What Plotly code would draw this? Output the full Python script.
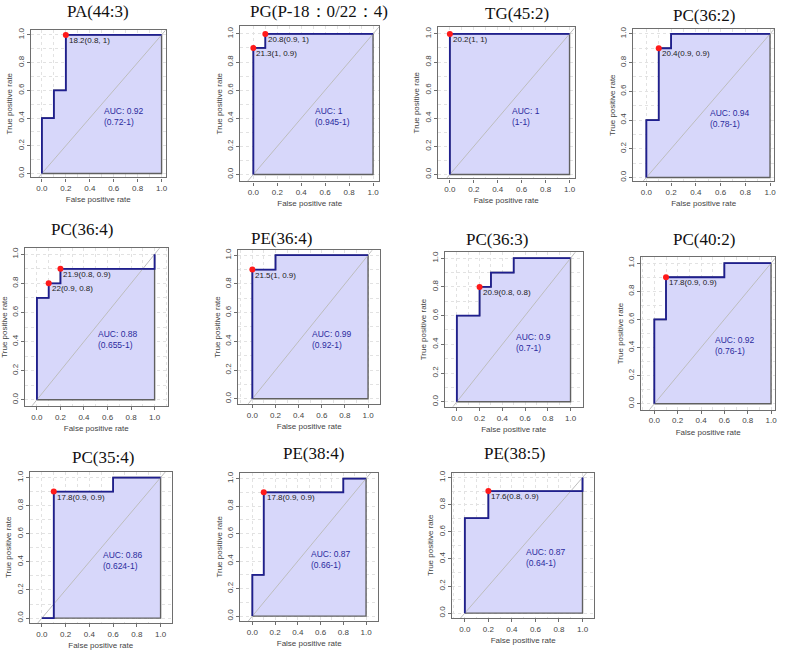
import plotly.graph_objects as go

W, H = 787, 654

# ---------------- data ----------------
titles = ["PA(44:3)", "PG(P-18：0/22：4)", "TG(45:2)", "PC(36:2)",
          "PC(36:4)", "PE(36:4)", "PC(36:3)", "PC(40:2)",
          "PC(35:4)", "PE(38:4)", "PE(38:5)"]

fpr = [
    [0, 0, 0.1, 0.1, 0.2, 0.2, 1],
    [0, 0, 0.1, 0.1, 1],
    [0, 0, 1],
    [0, 0, 0.1, 0.1, 0.2, 0.2, 1],
    [0, 0, 0.1, 0.1, 0.2, 0.2, 1, 1],
    [0, 0, 0.2, 0.2, 1],
    [0, 0, 0.2, 0.2, 0.3, 0.3, 0.5, 0.5, 1],
    [0, 0, 0.1, 0.1, 0.6, 0.6, 1],
    [0, 0.1, 0.1, 0.6, 0.6, 1],
    [0, 0, 0.1, 0.1, 0.8, 0.8, 1],
    [0, 0, 0.2, 0.2, 1, 1],
]
tpr = [
    [0, 0.4, 0.4, 0.6, 0.6, 1, 1],
    [0, 0.9, 0.9, 1, 1],
    [0, 1, 1],
    [0, 0.4, 0.4, 0.9, 0.9, 1, 1],
    [0, 0.7, 0.7, 0.8, 0.8, 0.9, 0.9, 1],
    [0, 0.9, 0.9, 1, 1],
    [0, 0.6, 0.6, 0.8, 0.8, 0.9, 0.9, 1, 1],
    [0, 0.6, 0.6, 0.9, 0.9, 1, 1],
    [0, 0, 0.9, 0.9, 1, 1],
    [0, 0.3, 0.3, 0.9, 0.9, 1, 1],
    [0, 0.7, 0.7, 0.9, 0.9, 1],
]
best_x = [[0.2], [0.1, 0], [0], [0.1], [0.2, 0.1], [0], [0.2], [0.1], [0.1], [0.1], [0.2]]
best_y = [[1], [1, 0.9], [1], [0.9], [0.9, 0.8], [0.9], [0.8], [0.9], [0.9], [0.9], [0.9]]
best_labels = [["18.2(0.8, 1)"], ["20.8(0.9, 1)", "21.3(1, 0.9)"], ["20.2(1, 1)"],
               ["20.4(0.9, 0.9)"], ["21.9(0.8, 0.9)", "22(0.9, 0.8)"], ["21.5(1, 0.9)"],
               ["20.9(0.8, 0.8)"], ["17.8(0.9, 0.9)"], ["17.8(0.9, 0.9)"],
               ["17.8(0.9, 0.9)"], ["17.6(0.8, 0.9)"]]
auc = ["0.92", "1", "1", "0.94", "0.88", "0.99", "0.9", "0.92", "0.86", "0.87", "0.87"]
auc_ci = ["0.72-1", "0.945-1", "1-1", "0.78-1", "0.655-1", "0.92-1", "0.7-1",
          "0.76-1", "0.624-1", "0.66-1", "0.64-1"]

tick_vals = [0, 0.2, 0.4, 0.6, 0.8, 1.0]
tick_text = ["0.0", "0.2", "0.4", "0.6", "0.8", "1.0"]

# ---------------- layout (pixel geometry of each panel) ----------------
# frame: left, right, top, bottom ; anchors: px of x=0, x=1, y=1, y=0
frames = [(31, 166, 28, 176), (241, 380, 24, 180), (439, 576, 25, 177), (635, 776, 27, 180),
          (25, 168, 247, 405), (239, 381, 249, 403), (446, 584, 251, 406), (643, 777, 256, 409),
          (30, 172, 471, 623), (241, 379, 472, 621), (453, 596, 472, 618)]
anchors = [(42, 162, 33, 172), (254, 374, 32, 173), (451, 571, 32, 173), (648, 772, 32, 176),
           (37, 155, 253, 399), (253, 369, 254, 398), (458, 572, 257, 401), (656, 773, 262, 403),
           (42, 161, 477, 618), (253, 367, 478, 616), (466, 584, 477, 613)]
title_pos = [(98, 10), (320, 10), (518, 12), (706, 14), (82, 228), (282, 237), (498, 238),
             (706, 238), (103, 457), (314, 453), (516, 453)]

fig = go.Figure()
annotations = []
LINE = "#1F1F8F"
FILL = "#D7D7FA"
AXC = "#6E6E6E"
TF = "Liberation Sans, Arial, sans-serif"

for i in range(len(titles)):
    k = "" if i == 0 else str(i + 1)
    xa, ya = "x" + k, "y" + k
    L, R, T, B = frames[i]
    x0, x1, y1p, y0p = anchors[i]
    xr = [(L - x0) / (x1 - x0), (R - x0) / (x1 - x0)]
    yr = [(y0p - B) / (y0p - y1p), (y0p - T) / (y0p - y1p)]
    axcommon = dict(showline=True, mirror=True, linecolor=AXC, linewidth=1.3,
                    ticks="outside", ticklen=3, tickcolor=AXC,
                    tickvals=tick_vals, ticktext=tick_text,
                    tickfont=dict(family=TF, size=8, color="#444"),
                    showgrid=True, gridcolor="#E2E2E2", griddash="dot", gridwidth=1,
                    zeroline=False, fixedrange=True)
    fig.update_layout(**{
        "xaxis" + k: dict(domain=[L / W, R / W], range=xr, anchor=ya,
                          title=dict(text="False positive rate", font=dict(family=TF, size=8, color="#444"),
                                     standoff=4),
                          minor=dict(dtick=0.1, tick0=0, showgrid=True, gridcolor="#E2E2E2", griddash="dot"),
                          **axcommon),
        "yaxis" + k: dict(domain=[1 - B / H, 1 - T / H], range=yr, anchor=xa, tickangle=-90,
                          title=dict(text="True positive rate", font=dict(family=TF, size=8, color="#444"),
                                     standoff=2),
                          minor=dict(dtick=0.1, tick0=0, showgrid=True, gridcolor="#E2E2E2", griddash="dot"),
                          **axcommon),
    })
    # AUC polygon
    fig.add_trace(go.Scatter(x=fpr[i] + [1, 0], y=tpr[i] + [0, 0], xaxis=xa, yaxis=ya,
                             fill="toself", fillcolor=FILL, mode="lines",
                             line=dict(color="#606060", width=1.4), hoverinfo="skip", showlegend=False))
    # diagonal
    fig.add_trace(go.Scatter(x=[-0.3, 1.3], y=[-0.3, 1.3], xaxis=xa, yaxis=ya, mode="lines",
                             line=dict(color="#BDBDBD", width=1), hoverinfo="skip", showlegend=False))
    # ROC curve
    fig.add_trace(go.Scatter(x=fpr[i], y=tpr[i], xaxis=xa, yaxis=ya, mode="lines",
                             line=dict(color=LINE, width=1.8), showlegend=False))
    # best threshold points
    fig.add_trace(go.Scatter(x=best_x[i], y=best_y[i], xaxis=xa, yaxis=ya, mode="markers",
                             marker=dict(color="#FF1A1A", size=6), cliponaxis=False, showlegend=False))
    for bx, by, bl in zip(best_x[i], best_y[i], best_labels[i]):
        annotations.append(dict(x=bx, y=by, xref=xa, yref=ya, text=bl, showarrow=False,
                                xanchor="left", yanchor="top", xshift=1, yshift=1,
                                font=dict(family=TF, size=8, color="#222")))
    annotations.append(dict(x=0.5, y=0.5, xref=xa, yref=ya,
                            text="AUC: " + auc[i] + "<br>(" + auc_ci[i] + ")",
                            showarrow=False, xanchor="left", yanchor="top", align="left",
                            font=dict(family=TF, size=8.5, color="#2B2B9E")))
    tx, ty = title_pos[i]
    annotations.append(dict(x=tx / W, y=1 - ty / H, xref="paper", yref="paper", text=titles[i],
                            showarrow=False, xanchor="center", yanchor="middle",
                            font=dict(family="Liberation Serif, Times New Roman, serif", size=17,
                                      color="#111")))

fig.update_layout(width=W, height=H, margin=dict(l=0, r=0, t=0, b=0),
                  paper_bgcolor="white", plot_bgcolor="white",
                  annotations=annotations, showlegend=False)

fig.write_html("out.html", config={"displayModeBar": False},
               post_script="document.body.style.margin='0';document.body.style.overflow='hidden';")
